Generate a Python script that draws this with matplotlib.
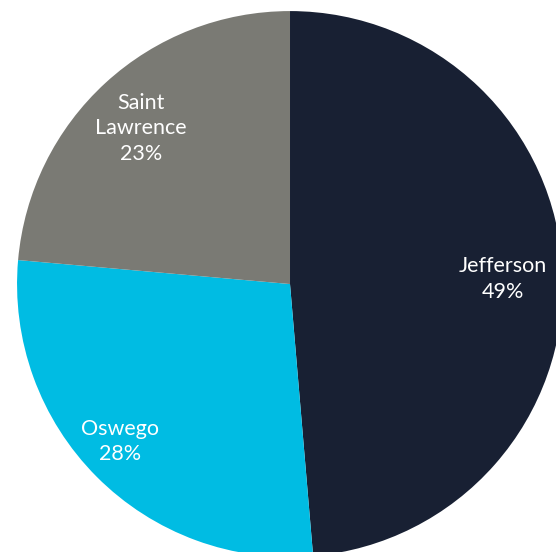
import numpy as np
import matplotlib.pyplot as plt

counties = ["Jefferson", "Oswego", "Saint\nLawrence"]
shares = [48.65, 27.75, 23.6]
pct_labels = ["49%", "28%", "23%"]
colors = ["#182033", "#00BCE3", "#7A7A74"]
label_r = [0.78, 0.85, 0.80]
# small hand nudges of the label positions (axes units)
label_nudge = [(0.0, -0.015), (-0.02, 0.022), (-0.005, -0.02)]

plt.rcParams['font.family'] = ['Lato', 'DejaVu Sans']

fig = plt.figure(figsize=(5.56, 5.52), dpi=100)
ax = fig.add_axes([0.0306, -0.00906, 0.982, 0.989])

wedges, _ = ax.pie(shares, colors=colors, startangle=90, counterclock=False,
                   radius=1.0, wedgeprops=dict(linewidth=0))

total = sum(shares)
start = 90.0
for name, val, pct, r, (nx, ny) in zip(counties, shares, pct_labels, label_r, label_nudge):
    mid = start - 360.0 * val / total / 2
    start -= 360.0 * val / total
    x = r * np.cos(np.radians(mid)) + nx
    y = r * np.sin(np.radians(mid)) + ny
    ax.text(x, y, f"{name}\n{pct}", ha="center", va="center",
            color="white", fontsize=15.5, linespacing=1.33)

ax.set_xlim(-1, 1)
ax.set_ylim(-1, 1)
ax.set_aspect("equal")
ax.axis("off")

fig.savefig("out.png", dpi=100)
